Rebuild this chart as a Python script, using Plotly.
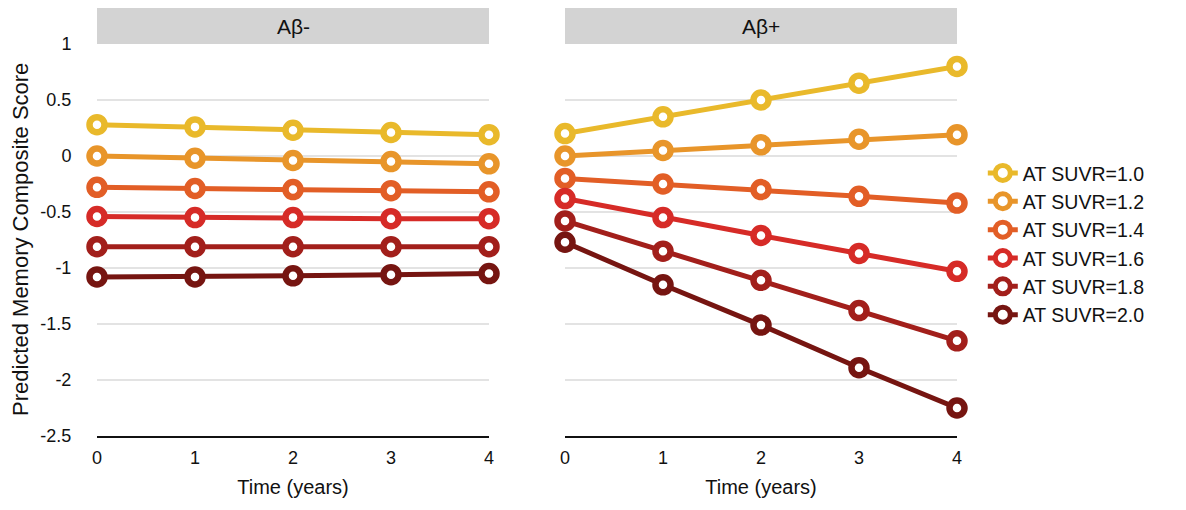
import plotly.graph_objects as go

years = [0, 1, 2, 3, 4]
panels = ["Aβ-", "Aβ+"]
suvr_labels = ["AT SUVR=1.0", "AT SUVR=1.2", "AT SUVR=1.4", "AT SUVR=1.6", "AT SUVR=1.8", "AT SUVR=2.0"]
colors = ["#E9B92B", "#E8952A", "#E25E26", "#D62B27", "#A21F1B", "#761511"]

# Predicted memory composite score, amyloid negative
abneg_10 = [0.28, 0.26, 0.23, 0.21, 0.19]
abneg_12 = [0.00, -0.02, -0.04, -0.05, -0.07]
abneg_14 = [-0.28, -0.29, -0.30, -0.31, -0.32]
abneg_16 = [-0.54, -0.55, -0.55, -0.56, -0.56]
abneg_18 = [-0.81, -0.81, -0.81, -0.81, -0.81]
abneg_20 = [-1.08, -1.08, -1.07, -1.06, -1.05]

# Predicted memory composite score, amyloid positive
abpos_10 = [0.20, 0.35, 0.50, 0.65, 0.80]
abpos_12 = [0.00, 0.05, 0.10, 0.15, 0.19]
abpos_14 = [-0.20, -0.25, -0.30, -0.36, -0.42]
abpos_16 = [-0.38, -0.55, -0.71, -0.87, -1.03]
abpos_18 = [-0.58, -0.85, -1.11, -1.38, -1.65]
abpos_20 = [-0.77, -1.15, -1.51, -1.89, -2.25]

neg_series = [abneg_10, abneg_12, abneg_14, abneg_16, abneg_18, abneg_20]
pos_series = [abpos_10, abpos_12, abpos_14, abpos_16, abpos_18, abpos_20]

FONT = "Liberation Sans, Arial, Helvetica, sans-serif"
INK = "#111"

fig = go.Figure()

for i, (name, col) in enumerate(zip(suvr_labels, colors)):
    for series, xa, ya, show in ((neg_series, "x", "y", False), (pos_series, "x2", "y2", True)):
        fig.add_trace(go.Scatter(
            x=years, y=series[i], xaxis=xa, yaxis=ya,
            mode="lines+markers", name=name, legendgroup=name, showlegend=show,
            line=dict(color=col, width=5),
            marker=dict(symbol="circle", size=15, color="white",
                        line=dict(color=col, width=6.5)),
            cliponaxis=False,
        ))

W, H = 1186, 510
L, R, T, B = 97, 229, 44, 74
pw = W - L - R
split0 = (489 - L) / pw
split1 = (565 - L) / pw

axis_common = dict(range=[0, 4], tickvals=years, showgrid=False, zeroline=False,
                   showline=True, linecolor=INK, linewidth=1.5,
                   ticks="outside", ticklen=5, tickcolor="rgba(0,0,0,0)",
                   tickfont=dict(family=FONT, size=18, color=INK),
                   title=dict(text="Time (years)", font=dict(family=FONT, size=20, color=INK),
                              standoff=13))

yaxis_common = dict(range=[-2.5, 1], tickvals=[1, 0.5, 0, -0.5, -1, -1.5, -2, -2.5],
                    ticktext=["1", "0.5", "0", "-0.5", "-1", "-1.5", "-2", "-2.5"],
                    showgrid=False, zeroline=False, showline=False,
                    tickfont=dict(family=FONT, size=18, color=INK))

fig.update_layout(
    width=W, height=H,
    margin=dict(l=L, r=R, t=T, b=B),
    paper_bgcolor="white", plot_bgcolor="white",
    xaxis=dict(domain=[0, split0], **axis_common),
    xaxis2=dict(domain=[split1, 1], anchor="y2", **axis_common),
    yaxis=dict(domain=[0, 1], ticks="outside", ticklen=21, tickcolor="rgba(0,0,0,0)",
               **yaxis_common),
    yaxis2=dict(domain=[0, 1], anchor="x2", showticklabels=False, **yaxis_common),
    legend=dict(x=1.03, y=0.72, xanchor="left", yanchor="top",
                font=dict(family=FONT, size=19.5, color=INK),
                itemwidth=30, tracegroupgap=0, bgcolor="rgba(0,0,0,0)"),
    showlegend=True,
)

# y-axis title placed near the left edge of the page
fig.add_annotation(xref="paper", yref="paper", x=0, y=0.5, xshift=-(L - 20),
                   xanchor="center", yanchor="middle", textangle=-90,
                   text="Predicted Memory Composite Score", showarrow=False,
                   font=dict(family=FONT, size=22, color=INK))

# horizontal grid lines at the half-unit ticks
for xa, ya in (("x", "y"), ("x2", "y2")):
    for g in [0.5, 0, -0.5, -1, -1.5, -2]:
        fig.add_shape(type="line", xref=f"{xa} domain", yref=ya, x0=0, x1=1, y0=g, y1=g,
                      line=dict(color="#c8c8c8", width=1.2), layer="below")

# facet strips
strip_h = 36 / (H - T - B)
for xa, label in (("x", panels[0]), ("x2", panels[1])):
    fig.add_shape(type="rect", xref=f"{xa} domain", yref="paper", x0=0, x1=1,
                  y0=1, y1=1 + strip_h, fillcolor="#d3d3d3", line=dict(width=0))
    fig.add_annotation(xref=f"{xa} domain", yref="paper", x=0.5, y=1 + strip_h / 2,
                       xanchor="center", yanchor="middle",
                       text=label, showarrow=False,
                       font=dict(family=FONT, size=21, color=INK))

fig.write_html("out.html")
